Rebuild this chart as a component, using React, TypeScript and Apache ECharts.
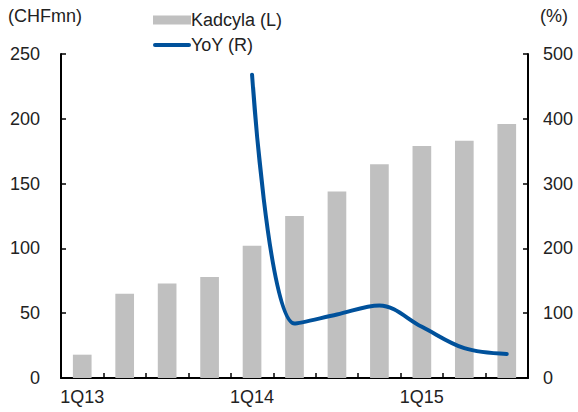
import React, { useEffect, useRef } from "react";
import * as echarts from "echarts";

const categories = ["1Q13", "2Q13", "3Q13", "4Q13", "1Q14", "2Q14", "3Q14", "4Q14", "1Q15", "2Q15", "3Q15"];
const kadcyla = [18, 65, 73, 78, 102, 125, 144, 165, 179, 183, 196];
const yoy = [null, null, null, null, 468, 84, 98, 112, 79, 46, 37];
const leftTicks = { min: 0, max: 250, interval: 50 };
const rightTicks = { min: 0, max: 500, interval: 100 };

const FONT = "'Liberation Sans', Arial, sans-serif";
const BLUE = "#00519B";

export default function App() {
  const ref = useRef<HTMLDivElement>(null);
  useEffect(() => {
    if (!ref.current) return;
    const chart = echarts.init(ref.current, null, { renderer: "svg" });
    chart.setOption({
      animation: false,
      textStyle: { fontFamily: FONT },
      grid: { left: 61, right: 50, top: 54, bottom: 34 },
      legend: {
        orient: "vertical",
        left: 148,
        top: 6,
        itemWidth: 38,
        itemHeight: 9,
        itemGap: 7,
        symbolKeepAspect: true,
        textStyle: { fontSize: 18, color: "#222", fontFamily: FONT, padding: [0, 0, 0, -5] },
        data: [
          { name: "Kadcyla (L)", icon: "rect" },
          { name: "YoY (R)", icon: "path://M2,0 H36 A2,2 0 0 1 36,4 H2 A2,2 0 0 1 2,0 Z" },
        ],
      },
      graphic: [
        { type: "text", left: 8, top: 7, style: { text: "(CHFmn)", fontSize: 18, fill: "#222", fontFamily: FONT } },
        { type: "text", left: 540, top: 7, style: { text: "(%)", fontSize: 18, fill: "#222", fontFamily: FONT } },
      ],
      xAxis: {
        type: "category",
        data: categories,
        boundaryGap: true,
        axisLine: { lineStyle: { color: "#000", width: 2 } },
        axisTick: { show: true, inside: true, interval: 0, length: 5, lineStyle: { color: "#000", width: 1.5 } },
        axisLabel: { interval: 3, fontSize: 18, color: "#222", margin: 10, fontFamily: FONT },
      },
      yAxis: [
        {
          type: "value",
          ...leftTicks,
          position: "left",
          axisLine: { show: true, lineStyle: { color: "#000", width: 2 } },
          axisTick: { show: true, inside: true, length: 5, lineStyle: { color: "#000", width: 1.5 } },
          splitLine: { show: false },
          axisLabel: { fontSize: 18, color: "#222", margin: 21, fontFamily: FONT },
        },
        {
          type: "value",
          ...rightTicks,
          position: "right",
          axisLine: { show: true, lineStyle: { color: "#000", width: 2 } },
          axisTick: { show: true, inside: true, length: 5, lineStyle: { color: "#000", width: 1.5 } },
          splitLine: { show: false },
          axisLabel: { fontSize: 18, color: "#222", margin: 15, fontFamily: FONT },
        },
      ],
      series: [
        {
          name: "Kadcyla (L)",
          type: "bar",
          yAxisIndex: 0,
          data: kadcyla,
          barWidth: "44%",
          itemStyle: { color: "#C0C0C0" },
        },
        {
          name: "YoY (R)",
          type: "line",
          yAxisIndex: 1,
          data: yoy,
          smooth: 0.35,
          symbol: "none",
          connectNulls: false,
          lineStyle: { color: BLUE, width: 4, cap: "round" },
          itemStyle: { color: BLUE },
        },
      ],
    });
    return () => chart.dispose();
  }, []);
  return <div ref={ref} style={{ width: 578, height: 412, position: "absolute", left: 0, top: 0 }} />;
}
